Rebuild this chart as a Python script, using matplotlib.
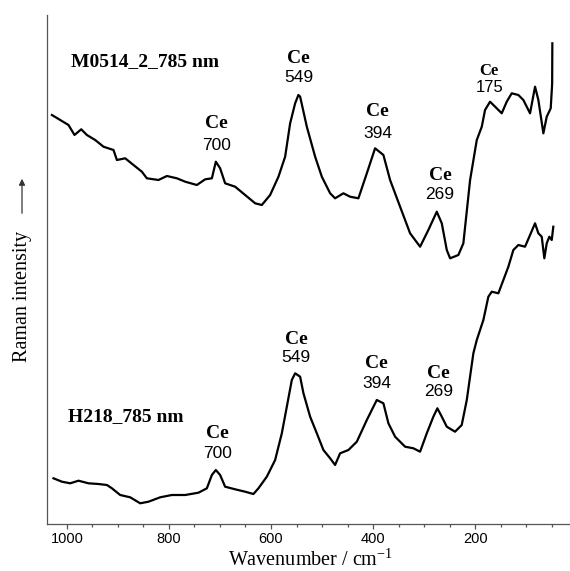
import matplotlib
matplotlib.use("Agg")
import matplotlib.pyplot as plt
from matplotlib.ticker import MultipleLocator

# ---------------- data (wavenumber in cm^-1, intensity in arbitrary units) -------------
top_name = "M0514_2_785 nm"
top_wn = [1029.4, 1013.1, 996.9, 985.1, 972.0, 960.8, 944.6, 928.3, 908.7, 902.0, 885.8,
          869.5, 853.1, 843.3, 820.5, 804.1, 784.5, 768.2, 745.3, 729.0, 715.9, 708.1,
          699.7, 689.9, 670.3, 650.7, 631.1, 618.0, 601.7, 585.4, 572.3, 562.5, 552.7,
          546.3, 542.9, 529.8, 513.5, 500.4, 484.1, 474.4, 458.1, 445.0, 428.7, 412.2,
          396.0, 379.7, 366.6, 347.0, 327.4, 307.8, 291.6, 275.1, 265.3, 255.5, 249.0,
          232.8, 223.0, 209.8, 196.7, 186.9, 180.5, 170.7, 157.6, 147.8, 138.0, 128.2,
          115.2, 105.4, 92.3, 82.5, 76.0, 66.2, 59.6, 51.8, 49.0, 48.6]
top_int = [409, 404, 399, 389, 394.7, 389, 384, 377.3, 374, 364, 365.7,
           359, 352.3, 345.7, 344, 348, 345.7, 342.3, 339, 344.7, 345.7, 362.3,
           355.7, 340.7, 337.3, 329, 320.7, 319, 329, 347.3, 367.3, 400.7, 420.7,
           429, 427.3, 397.3, 367.3, 347.3, 330.7, 325.7, 330.7, 327.3, 325.7, 350.7,
           375.7, 369, 344, 317.3, 290.7, 277.3, 294, 312.3, 300.7, 274, 265.7,
           269, 280.7, 344, 384, 397.3, 414, 422.3, 415.7, 410.7, 422.3, 430.7,
           429, 424, 410.7, 437.3, 424, 390.7, 407.3, 415.7, 440.0, 480.7]

bot_name = "H218_785 nm"
bot_wn = [1026.3, 1009.8, 993.5, 977.3, 957.7, 938.1, 921.6, 911.8, 895.6, 876.0, 856.4,
          840.1, 817.2, 794.3, 768.2, 742.2, 725.7, 715.9, 708.1, 699.7, 689.9, 670.3,
          650.7, 634.4, 624.6, 608.2, 591.9, 578.8, 569.0, 559.2, 552.7, 542.9, 536.4,
          523.3, 510.2, 497.3, 484.1, 474.4, 464.6, 448.3, 431.8, 412.2, 392.7, 379.7,
          369.9, 356.8, 337.2, 320.9, 307.8, 294.7, 281.8, 273.9, 265.3, 255.5, 239.3,
          226.2, 216.3, 203.4, 196.7, 183.8, 174.0, 167.3, 154.4, 144.6, 134.8, 125.0,
          115.2, 102.1, 92.3, 82.5, 76.0, 69.4, 64.3, 59.6, 54.5, 49.8, 46.7]
bot_int = [45.7, 42.3, 40.7, 43.3, 40.7, 40, 39, 35.7, 29, 26.7, 20.7,
           22.3, 26.7, 29, 29, 31.3, 35.7, 49, 54, 49, 37.3, 34.7,
           32.3, 30, 35.7, 47.3, 64, 90.7, 117.3, 144, 150.7, 147.3, 130.7,
           107.3, 90.7, 74, 65.7, 59, 70.7, 74, 82.3, 104, 124, 120.7,
           100.7, 87.3, 77.3, 75.7, 72.3, 90.7, 107.3, 115.7, 107.3, 97.3, 92.3,
           99, 124, 170.7, 184, 204, 227.3, 232.3, 230.7, 244, 257.3, 274,
           279, 277.3, 289, 300.7, 290.7, 287.3, 265.7, 280.7, 287.3, 284, 297.3]

# peak annotations: (label number, x, y of "Ce", y of number, small?)
top_peaks = ["700", "549", "394", "269", "175"]
top_peak_x = [706.5, 546.0, 391.5, 268.7, 172.1]
top_peak_ce_y = [401, 466, 412.3, 348.3, 453.3]
top_peak_num_y = [379, 447, 390.7, 329.7, 436.7]

bot_peaks = ["700", "549", "394", "269"]
bot_peak_x = [704.2, 550.7, 392.7, 272.0]
bot_peak_ce_y = [90.7, 185, 160.7, 150.7]
bot_peak_num_y = [70, 166.2, 140, 132.3]

xticks = [1000, 800, 600, 400, 200]

# ---------------- figure ----------------
plt.rcParams['mathtext.fontset'] = 'custom'
plt.rcParams['mathtext.rm'] = 'Liberation Serif'

fig = plt.figure(figsize=(5.70, 5.71), dpi=100)
ax = fig.add_axes([46.5 / 570, 47 / 571, 1 - 46.5 / 570, 509 / 571])

ax.plot(top_wn, top_int, color='black', lw=1.6, solid_joinstyle='round')
ax.plot(bot_wn, bot_int, color='black', lw=1.6, solid_joinstyle='round')

ax.set_xlim(1040, 14)
ax.set_ylim(0, 509)

for s in ['top', 'right']:
    ax.spines[s].set_visible(False)
for s in ['left', 'bottom']:
    ax.spines[s].set_color('#555555')
    ax.spines[s].set_linewidth(0.9)

ax.set_yticks([])
ax.set_xticks(xticks)
ax.xaxis.set_minor_locator(MultipleLocator(50))
ax.tick_params(axis='x', which='major', length=3.5, width=0.9, color='#555555',
               pad=2.5, labelsize=10.5)
ax.tick_params(axis='x', which='minor', length=2.5, width=0.9, color='#555555')
for lbl in ax.get_xticklabels():
    lbl.set_fontfamily('Liberation Sans')

serif = 'Liberation Serif'
sans = 'Liberation Sans'

# sample names
ax.text(991.6, 462, top_name, family=serif, fontweight='bold', fontsize=14,
        ha='left', va='center')
ax.text(998.0, 107.3, bot_name, family=serif, fontweight='bold', fontsize=14,
        ha='left', va='center')

# peak labels
for i, (num, x, yc, yn) in enumerate(zip(top_peaks, top_peak_x, top_peak_ce_y, top_peak_num_y)):
    small = (i == len(top_peaks) - 1)
    ax.text(x, yc, "Ce", family=serif, fontweight='bold', fontsize=12 if small else 14,
            ha='center', va='center')
    ax.text(x, yn, num, family=sans, fontsize=12 if small else 12.5,
            ha='center', va='center')
for num, x, yc, yn in zip(bot_peaks, bot_peak_x, bot_peak_ce_y, bot_peak_num_y):
    ax.text(x, yc, "Ce", family=serif, fontweight='bold', fontsize=14,
            ha='center', va='center')
    ax.text(x, yn, num, family=sans, fontsize=12.5, ha='center', va='center')

# axis labels
fig.text(311 / 570, 1 - 560 / 571, r'Wavenumber / cm$^{\mathregular{-1}}$', family=serif,
         fontsize=14.5, ha='center', va='center')
fig.text(23 / 570, 1 - 296 / 571, 'Raman intensity', family=serif, fontsize=14.5,
         rotation=90, ha='center', va='center')
fig.patches.append(matplotlib.patches.FancyArrowPatch(
    (22 / 570, 1 - 216 / 571), (22 / 570, 1 - 176 / 571), transform=fig.transFigure,
    arrowstyle='-|>', mutation_scale=9, color='#333333', lw=0.9))

fig.savefig('out.png', dpi=100)
